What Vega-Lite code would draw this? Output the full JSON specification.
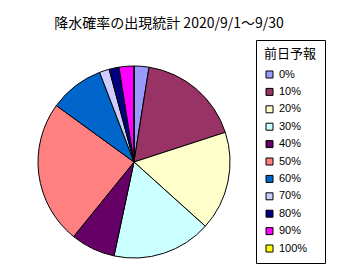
{
  "$schema": "https://vega.github.io/schema/vega-lite/v6.json",
  "width": 268,
  "height": 192,
  "autosize": {"type": "none"},
  "padding": {"left": 0, "top": 66, "right": 93, "bottom": 10},
  "background": "white",
  "title": {"text": "降水確率の出現統計 2020/9/1～9/30", "font": "Noto Sans CJK JP", "fontSize": 14, "fontWeight": "normal", "anchor": "middle", "dx": 35, "offset": 9, "color": "black"},
  "data": {"values": [
    {"label": "0%", "p": 0, "count": 3},
    {"label": "10%", "p": 10, "count": 21},
    {"label": "20%", "p": 20, "count": 20},
    {"label": "30%", "p": 30, "count": 20},
    {"label": "40%", "p": 40, "count": 9},
    {"label": "50%", "p": 50, "count": 29},
    {"label": "60%", "p": 60, "count": 11},
    {"label": "70%", "p": 70, "count": 2},
    {"label": "80%", "p": 80, "count": 2},
    {"label": "90%", "p": 90, "count": 3},
    {"label": "100%", "p": 100, "count": 0}
  ]},
  "mark": {"type": "arc", "stroke": "black", "strokeWidth": 1},
  "encoding": {
    "theta": {"field": "count", "type": "quantitative", "stack": true},
    "order": {"field": "p", "type": "quantitative"},
    "color": {
      "field": "label", "type": "nominal",
      "scale": {
        "domain": ["0%", "10%", "20%", "30%", "40%", "50%", "60%", "70%", "80%", "90%", "100%"],
        "range": ["#9999FF", "#993366", "#FFFFCC", "#CCFFFF", "#660066", "#FF8080", "#0066CC", "#CCCCFF", "#000080", "#FF00FF", "#FFFF00"]
      },
      "legend": {
        "title": "前日予報",
        "orient": "none",
        "legendX": 256,
        "legendY": -26,
        "titleFont": "Noto Sans CJK JP",
        "titleFontSize": 13,
        "titleFontWeight": "normal",
        "titleColor": "black",
        "titlePadding": 8,
        "labelFont": "Liberation Sans",
        "labelFontSize": 11,
        "labelColor": "black",
        "symbolType": "square",
        "symbolSize": 49,
        "symbolStrokeColor": "black",
        "symbolStrokeWidth": 1,
        "symbolOpacity": 1,
        "strokeColor": "black",
        "padding": 8,
        "rowPadding": 5.4
      }
    }
  },
  "config": {"view": {"stroke": null}}
}
